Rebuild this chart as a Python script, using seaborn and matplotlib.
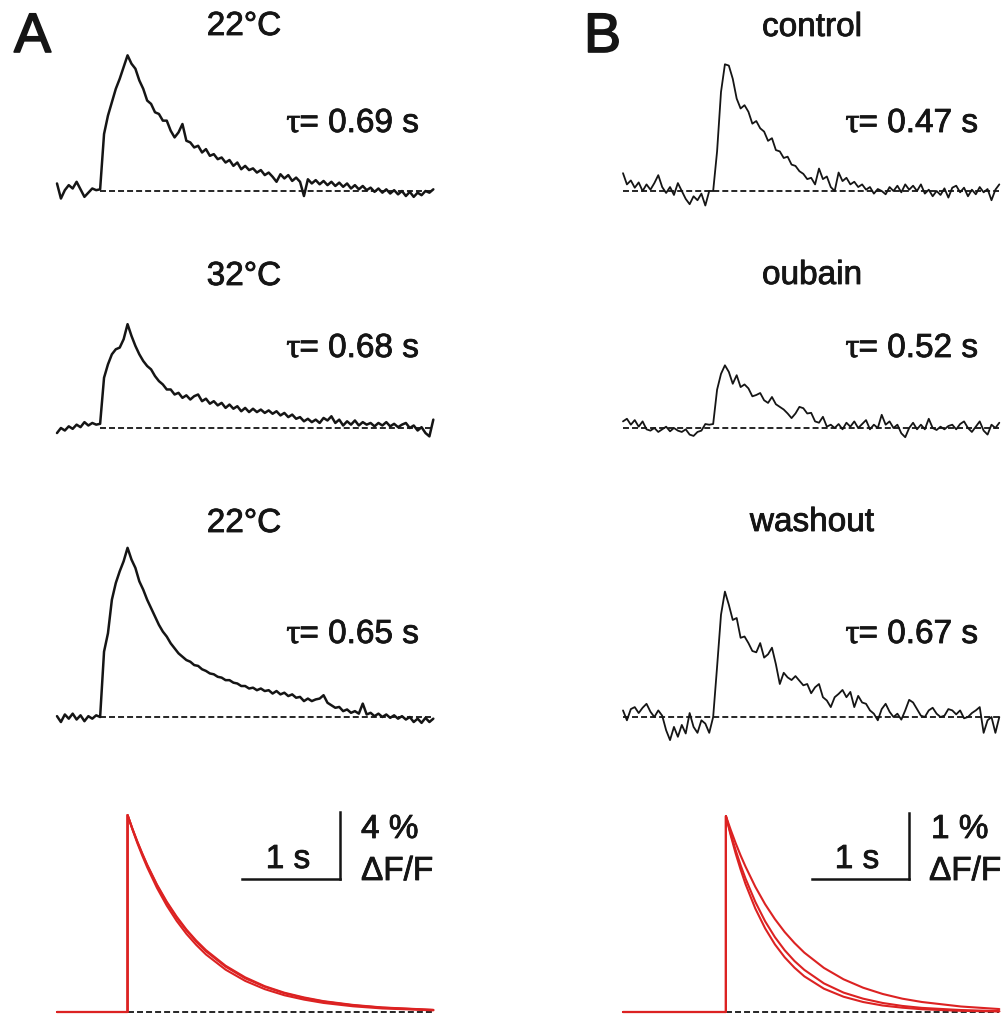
import numpy as np
import matplotlib
matplotlib.use("Agg")
import matplotlib.pyplot as plt
import matplotlib.patheffects as pe
import seaborn as sns

# ---------------- data ----------------
DT = 0.04  # s, sample interval of the traces
N_SAMPLES = 97

# Panel A: temperature series (dF/F, %)
a_titles = ["22°C", "32°C", "22°C"]
a_taus = ["0.69", "0.68", "0.65"]
a_onset = [0.44, 0.44, 0.44]

a1 = [0.45, -0.45, 0.05, 0.35, 0.15, 0.55, 0.1, -0.35, -0.1, 0.15, 0.05, 0.1,
      3.4, 4.5, 5.3, 6.1, 6.7, 7.4, 8.1, 7.6, 7.3, 6.6, 6.1, 5.4, 5.2, 4.7, 4.6, 4.2, 4.2,
      3.6, 3.2, 3.5, 4.0, 3.0, 2.9, 2.6, 2.7, 2.3, 2.5, 2.1, 2.2, 1.9, 2.0, 1.7, 1.85,
      1.5, 1.7, 1.3, 1.5, 1.25, 1.35, 1.1, 1.25, 0.95, 1.1, 0.85, 0.55, 1.0, 0.75, 0.95,
      0.6, 0.8, 0.55, -0.3, 0.7, 0.45, 0.65, 0.4, 0.6, 0.35, 0.55, 0.3, 0.5, 0.25, 0.45,
      0.15, 0.35, 0.1, 0.3, 0.05, 0.2, -0.05, 0.15, -0.1, 0.1, -0.15, 0.05, -0.2, 0.0,
      -0.3, -0.05, -0.35, -0.1, -0.25, 0.0, -0.1, 0.1]
a2 = [-0.3, 0.0, -0.15, 0.1, -0.05, 0.2, 0.05, 0.35, 0.15, 0.3, 0.2, 0.25,
      3.0, 3.8, 4.4, 4.7, 4.8, 5.3, 6.2, 5.5, 4.9, 4.4, 4.0, 3.7, 3.5, 3.1, 2.8, 2.6, 2.3,
      2.3, 2.0, 2.1, 1.8, 1.95, 1.7, 1.9, 2.0, 1.6, 1.75, 1.45, 1.6, 1.35, 1.5, 1.2, 1.4,
      1.15, 1.3, 1.0, 1.2, 0.95, 1.15, 0.95, 1.1, 0.9, 1.05, 0.85, 1.0, 0.75, 0.9, 0.65,
      0.8, 0.55, 0.65, 0.4, 0.55, 0.35, 0.5, 0.3, 0.6, 0.45, 0.7, 0.3, 0.5, 0.15, 0.4,
      0.2, 0.45, 0.15, 0.35, 0.2, 0.3, 0.1, 0.3, 0.15, 0.35, 0.1, 0.25, 0.05, 0.2, 0.3,
      0.0, 0.15, -0.15, 0.05, -0.3, -0.5, 0.5]
a3 = [0.05, -0.3, 0.15, -0.1, 0.2, -0.15, 0.1, -0.25, 0.05, -0.1, 0.1, 0.0,
      3.9, 5.0, 7.0, 8.0, 8.7, 9.3, 10.1, 9.4, 8.9, 8.1, 7.6, 7.0, 6.5, 6.0, 5.5, 5.1, 4.8,
      4.4, 4.1, 3.8, 3.6, 3.4, 3.3, 3.1, 3.05, 2.85, 2.75, 2.6, 2.55, 2.4, 2.35, 2.2, 2.2,
      2.05, 2.0, 1.85, 1.85, 1.7, 1.75, 1.6, 1.7, 1.55, 1.6, 1.4, 1.55, 1.35, 1.45, 1.25,
      1.35, 1.15, 1.2, 0.95, 1.1, 0.95, 1.05, 1.1, 1.3, 0.85, 0.7, 0.55, 0.6, 0.35, 0.45,
      0.25, 0.35, 0.2, 0.8, 0.15, 0.25, 0.05, 0.2, 0.0, 0.15, -0.05, 0.1, -0.1, 0.05,
      -0.15, 0.0, -0.3, -0.1, -0.35, -0.05, -0.3, -0.1]

# Panel B: ouabain series (dF/F, %)
b_titles = ["control", "oubain", "washout"]
b_taus = ["0.47", "0.52", "0.67"]
b_onset = [0.0, 0.0, 0.0]

b1 = [0.27, 0.1, 0.16, 0.05, 0.13, 0.0, 0.1, 0.02, 0.12, 0.24, 0.06, -0.03, 0.06, -0.06,
      0.12, 0.0, -0.12, -0.2, -0.08, -0.14, -0.04, -0.22, 0.0, 0.0,
      0.6, 1.5, 1.92, 1.9, 1.7, 1.4, 1.25, 1.3, 1.2, 1.02, 1.06, 0.95, 0.9, 0.76, 0.8,
      0.62, 0.6, 0.5, 0.52, 0.4, 0.38, 0.3, 0.26, 0.18, 0.2, 0.1, 0.34, 0.18, 0.22, 0.06,
      0.0, 0.28, 0.15, 0.2, 0.1, 0.14, 0.06, 0.1, 0.02, 0.06, -0.04, 0.03, 0.0, -0.05,
      0.06, 0.0, 0.08, -0.02, 0.1, 0.02, 0.08, 0.0, 0.1, -0.04, 0.02, -0.08, 0.0, -0.06,
      0.04, -0.1, 0.05, 0.08, -0.02, 0.05, -0.08, 0.02, -0.05, 0.06, -0.02, 0.03, -0.14,
      0.02, 0.1]
b2 = [0.1, 0.14, 0.05, 0.12, 0.02, 0.1, -0.02, -0.04, 0.0, -0.06, -0.02, 0.02, -0.05,
      0.0, -0.04, -0.06, -0.02, -0.1, -0.12, -0.06, -0.04, 0.06, 0.05, 0.06,
      0.58, 0.82, 0.95, 0.85, 0.67, 0.8, 0.62, 0.66, 0.6, 0.48, 0.5, 0.53, 0.42, 0.38,
      0.47, 0.36, 0.32, 0.28, 0.22, 0.15, 0.22, 0.32, 0.3, 0.22, 0.23, 0.1, 0.08, 0.17,
      0.02, 0.05, 0.0, 0.06, -0.02, 0.08, 0.02, 0.1, 0.0, 0.06, 0.12, -0.02, 0.05, 0.0,
      0.2, 0.05, 0.1, 0.0, 0.05, -0.08, -0.14, 0.0, 0.08, -0.02, 0.05, -0.02, 0.14, 0.0,
      -0.03, 0.02, -0.02, 0.03, 0.05, -0.02, 0.06, 0.1, 0.0, -0.06, 0.02, 0.1, -0.04,
      -0.1, 0.05, 0.0, 0.08]
b3 = [0.1, -0.05, 0.12, 0.15, 0.06, 0.14, 0.2, 0.08, 0.0, 0.1, 0.02, -0.2, -0.35, -0.15,
      -0.3, -0.12, -0.25, 0.06, -0.15, -0.24, -0.05, -0.1, -0.24, 0.0,
      0.76, 1.55, 1.9, 1.7, 1.47, 1.5, 1.2, 1.22, 1.12, 1.0, 0.98, 1.12, 0.9, 0.95, 1.05,
      0.8, 0.5, 0.67, 0.6, 0.56, 0.62, 0.55, 0.48, 0.5, 0.36, 0.45, 0.5, 0.3, 0.25, 0.15,
      0.3, 0.35, 0.41, 0.3, 0.38, 0.15, 0.32, 0.22, 0.2, 0.1, 0.05, -0.05, 0.12, 0.2,
      0.08, 0.0, 0.05, -0.04, 0.1, 0.26, 0.22, 0.12, 0.02, 0.0, 0.1, 0.14, 0.05, 0.0,
      0.02, 0.12, 0.1, 0.04, 0.1, -0.02, 0.0, 0.06, 0.1, 0.15, -0.24, -0.05, 0.0, -0.24,
      0.0]

# Normalised exponential fits (red), time after peak (s) and value
a_fit_peak = 0.72
a_fit_dt = [0, 0.05, 0.1, 0.15, 0.2, 0.3, 0.4, 0.5, 0.6, 0.7, 0.8, 1.0, 1.2, 1.4, 1.6,
            1.8, 2.0, 2.3, 2.6, 3.12]
a_fit_069 = [1, 0.930, 0.865, 0.805, 0.748, 0.647, 0.560, 0.485, 0.419, 0.363, 0.314,
             0.235, 0.176, 0.131, 0.098, 0.074, 0.055, 0.036, 0.023, 0.011]
a_fit_068 = [1, 0.929, 0.863, 0.802, 0.745, 0.643, 0.555, 0.479, 0.414, 0.357, 0.308,
             0.230, 0.171, 0.128, 0.095, 0.071, 0.053, 0.034, 0.022, 0.010]
a_fit_065 = [1, 0.926, 0.857, 0.794, 0.735, 0.630, 0.540, 0.463, 0.397, 0.341, 0.292,
             0.215, 0.158, 0.116, 0.085, 0.063, 0.046, 0.029, 0.018, 0.0085]

b_fit_peak = 1.05
b_fit_dt = [0, 0.05, 0.1, 0.15, 0.2, 0.3, 0.4, 0.5, 0.6, 0.7, 0.8, 1.0, 1.2, 1.4, 1.6,
            1.8, 2.0, 2.4, 2.79]
b_fit_047 = [1, 0.899, 0.808, 0.727, 0.653, 0.528, 0.427, 0.345, 0.279, 0.226, 0.182,
             0.119, 0.078, 0.051, 0.033, 0.022, 0.014, 0.006, 0.0026]
b_fit_052 = [1, 0.908, 0.825, 0.749, 0.681, 0.562, 0.463, 0.382, 0.315, 0.260, 0.215,
             0.146, 0.099, 0.068, 0.046, 0.031, 0.021, 0.010, 0.0046]
b_fit_067 = [1, 0.928, 0.861, 0.799, 0.742, 0.639, 0.550, 0.474, 0.408, 0.352, 0.303,
             0.225, 0.167, 0.124, 0.092, 0.068, 0.051, 0.028, 0.015]

scale_a = ("1 s", "4 %", 4.0)
scale_b = ("1 s", "1 %", 1.0)

# ---------------- style ----------------
sns.set_theme(style="white")
plt.rcParams["font.family"] = ["Liberation Sans", "DejaVu Sans"]
plt.rcParams["lines.scale_dashes"] = False

W, H = 1003, 1015
fig = plt.figure(figsize=(W / 100, H / 100), dpi=100)
fig.patch.set_facecolor("white")

BLACK = "#151515"
RED = "#dc2222"
DASH = (0, (4.3, 2.2))
PX_PER_S = 98.0
T_SPAN = DT * (N_SAMPLES - 1)
t = np.arange(N_SAMPLES) * DT
thick = [pe.withStroke(linewidth=0.6, foreground=BLACK)]
thick_big = [pe.withStroke(linewidth=1.2, foreground=BLACK)]


def px_axes(left, top, width, height):
    ax = fig.add_axes([left / W, 1 - (top + height) / H, width / W, height / H])
    ax.axis("off")
    return ax


def trace_axes(left, base, px_per_unit, ylo, yhi):
    top = base - yhi * px_per_unit
    ax = px_axes(left, top, T_SPAN * PX_PER_S, (yhi - ylo) * px_per_unit)
    ax.set_xlim(0, T_SPAN)
    ax.set_ylim(ylo, yhi)
    return ax


def draw_trace(ax, values, dash_start, lw):
    ax.hlines(0, dash_start, T_SPAN, colors=BLACK, linestyles=DASH,
              linewidth=1.3, clip_on=False)
    sns.lineplot(x=t, y=values, ax=ax, color=BLACK, linewidth=lw, estimator=None,
                 sort=False, legend=False, clip_on=False)


def draw_fits(ax, peak, dts, fits):
    ax.hlines(0, peak, T_SPAN, colors=BLACK, linestyles=DASH,
              linewidth=1.3, clip_on=False)
    for f in fits:
        xs = [0.0, peak] + [peak + d for d in dts]
        ys = [0.0, 0.0] + list(f)
        sns.lineplot(x=xs, y=ys, ax=ax, color=RED, linewidth=1.5, estimator=None,
                     sort=False, legend=False, clip_on=False)


def draw_scalebar(left, base, width_px, px_per_unit, labels):
    s_lbl, v_lbl, v_amp = labels
    ax = px_axes(left, base - v_amp * px_per_unit, width_px, v_amp * px_per_unit)
    ax.set_xlim(0, 1)
    ax.set_ylim(0, v_amp)
    ax.plot([0, 1], [0, 0], color=BLACK, lw=1.8, clip_on=False, solid_capstyle="projecting")
    ax.plot([1, 1], [0, v_amp], color=BLACK, lw=1.8, clip_on=False, solid_capstyle="projecting")


def ftext(x, y, s, ha="left", size=24, effects=None, **kw):
    return fig.text(x / W, 1 - y / H, s, ha=ha, va="baseline", fontsize=size, color=BLACK,
                    path_effects=effects if effects is not None else thick, **kw)


renderer = fig.canvas.get_renderer()


def tau_text(x_right, y, value):
    body = ftext(x_right, y, "= " + value + " s", ha="right")
    bb = body.get_window_extent(renderer=renderer)
    x_left_px = bb.x0
    fig.text((x_left_px + 1) / W, 1 - y / H, "τ", ha="right", va="baseline", fontsize=25,
             color=BLACK, family="Liberation Serif", path_effects=thick)


# ---------------- panel A ----------------
A_LEFT = 57
A_SCALE = 16.75  # px per %
a_bases = [191, 428, 717]
for vals, base, onset in zip([a1, a2, a3], a_bases, a_onset):
    ax = trace_axes(A_LEFT, base, A_SCALE, -1.5, 10.5)
    draw_trace(ax, vals, onset, 1.8)

ax = trace_axes(A_LEFT, 1012, 197, -0.02, 1.05)
draw_fits(ax, a_fit_peak, a_fit_dt, [a_fit_069, a_fit_068, a_fit_065])

# ---------------- panel B ----------------
B_LEFT = 623
B_SCALE = 66.0  # px per %
b_bases = [191, 428, 717]
for vals, base, onset in zip([b1, b2, b3], b_bases, b_onset):
    ax = trace_axes(B_LEFT, base, B_SCALE, -0.5, 2.2)
    draw_trace(ax, vals, onset, 1.3)

ax = trace_axes(B_LEFT, 1012, 196, -0.02, 1.05)
draw_fits(ax, b_fit_peak, b_fit_dt, [b_fit_047, b_fit_052, b_fit_067])

# ---------------- scale bars ----------------
draw_scalebar(242, 879, PX_PER_S, A_SCALE, scale_a)
draw_scalebar(812, 879, PX_PER_S - 1, B_SCALE, scale_b)

# ---------------- text ----------------
ftext(14, 52, "A", size=40, effects=thick_big)
ftext(584, 52, "B", size=40, effects=thick_big)

for title, tau, yb_t, yb_tau in zip(a_titles, a_taus, [35, 285, 532], [132, 357, 643]):
    ftext(244, yb_t, title, ha="center")
    tau_text(419, yb_tau, tau)
for title, tau, yb_t, yb_tau in zip(b_titles, b_taus, [36, 284, 531], [132, 357, 643]):
    ftext(812, yb_t, title, ha="center")
    tau_text(978, yb_tau, tau)

ftext(288, 868, scale_a[0], ha="center")
ftext(361, 838, scale_a[1])
ftext(361, 880, "ΔF/F")
ftext(857, 868, scale_b[0], ha="center")
ftext(931, 838, scale_b[1])
ftext(929, 880, "ΔF/F")

fig.savefig("out.png", dpi=100, facecolor="white")
